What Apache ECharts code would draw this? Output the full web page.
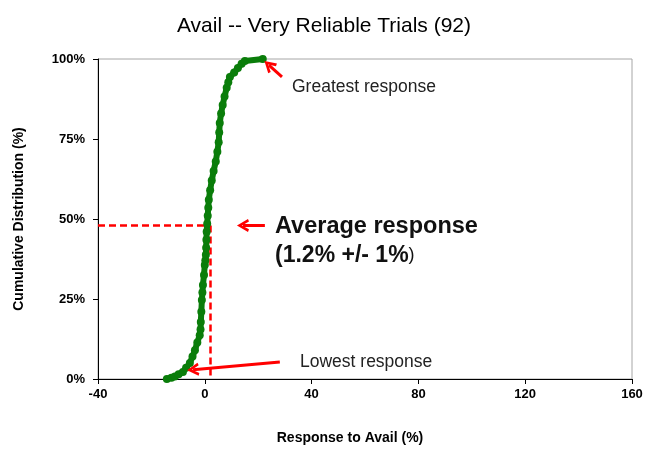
<!DOCTYPE html>
<html>
<head>
<meta charset="utf-8">
<script src="https://cdn.jsdelivr.net/npm/echarts@6/dist/echarts.min.js"></script>
<style>
  html, body { margin: 0; padding: 0; background: #fff; }
  #chart { width: 648px; height: 450px; }
</style>
</head>
<body>
<div id="chart"></div>
<script>
// values
const responseX = [-14.2, -12.5, -11.2, -9.8, -8.2, -7.0, -5.6, -4.6, -3.7, -2.8, -1.9, -1.6, -1.5, -1.3, -1.1, -0.9,
  -0.7, -0.3, 0, 0.2, 0.4, 0.5, 0.6, 0.7, 0.9, 1.1, 1.3, 1.5, 2.0, 2.6, 3.3, 4.1, 4.7, 5.2, 5.4, 5.6, 6.1, 6.7,
  7.4, 8.2, 8.8, 9.4, 11.0, 12.4, 13.8, 15.0, 21.7];
const cumulativePct = [0, 0.4, 0.8, 1.5, 2.2, 3.5, 5, 7, 9, 11.4, 13.7, 15.5, 17.8, 21, 24.7, 27,
  29.4, 32.5, 35.6, 37, 38.8, 41, 43.5, 46, 48.5, 51, 53.5, 56, 59, 62, 65, 68, 71, 74, 77, 80, 83, 85.6,
  88.3, 91, 92.7, 94.4, 95.8, 97.2, 98.5, 99.4, 100];
const xTicks = [-40, 0, 40, 80, 120, 160];
const yTicks = [0, 25, 50, 75, 100];
const avgGuide = [2, 48];          // dashed lines: x at average, y at cumulative %
// annotation arrows: [tail, head]
const arrowGreatest = [[28.9, 94.4], [24.0, 98.1]];
const arrowAverage = [[22.5, 48], [14.3, 48]];
const arrowLowest = [[28.1, 5.3], [-4.4, 2.9]];

const chart = echarts.init(document.getElementById('chart'));
const fontFam = '"Liberation Sans", Arial, sans-serif';
const chevron = 'path://M0,11 L6,0 L12,11 L9.6,12 L6,5 L2.4,12 Z';

const points = responseX.map((x, i) => [x, cumulativePct[i]]);

const arrowLine = (pair) => [
  { coord: pair[0], symbol: 'none' },
  { coord: pair[1], symbol: chevron, symbolSize: [13, 12] }
];

chart.setOption({
  animation: false,
  backgroundColor: '#fff',
  title: {
    text: 'Avail -- Very Reliable Trials (92)',
    left: 'center',
    top: 11,
    textStyle: { fontFamily: fontFam, fontSize: 21, fontWeight: 'normal', color: '#000' }
  },
  grid: { left: 98, right: 16, top: 59, bottom: 71, show: true, borderColor: '#a6a6a6', borderWidth: 1 },
  xAxis: {
    type: 'value',
    min: xTicks[0], max: xTicks[xTicks.length - 1], interval: xTicks[1] - xTicks[0],
    name: 'Response to Avail (%)',
    nameLocation: 'middle',
    nameGap: 52,
    nameTextStyle: { fontFamily: fontFam, fontSize: 14, fontWeight: 'bold', color: '#000', padding: [0, 30, 0, 0] },
    axisLine: { onZero: false, lineStyle: { color: '#000', width: 1 } },
    axisTick: { show: true, length: 5, lineStyle: { color: '#000' } },
    axisLabel: { fontFamily: fontFam, fontSize: 13, fontWeight: 'bold', color: '#000', margin: 9 },
    splitLine: { show: false }
  },
  yAxis: {
    type: 'value',
    min: yTicks[0], max: yTicks[yTicks.length - 1], interval: yTicks[1] - yTicks[0],
    name: 'Cumulative Distribution (%)',
    nameLocation: 'middle',
    nameRotate: 90,
    nameGap: 72,
    nameTextStyle: { fontFamily: fontFam, fontSize: 14, fontWeight: 'bold', color: '#000' },
    axisLine: { show: true, onZero: false, lineStyle: { color: '#000', width: 1 } },
    axisTick: { show: true, length: 5, lineStyle: { color: '#000' } },
    axisLabel: { fontFamily: fontFam, fontSize: 13, fontWeight: 'bold', color: '#000', margin: 13,
      formatter: (v) => v + '%' },
    splitLine: { show: false }
  },
  series: [
    {
      name: 'Cumulative',
      type: 'line',
      data: points,
      symbol: 'circle',
      symbolSize: 8,
      showSymbol: true,
      clip: false,
      z: 3,
      lineStyle: { color: '#0a7d0a', width: 6 },
      itemStyle: { color: '#0a7d0a' },
      markLine: {
        silent: true,
        symbol: ['none', 'none'],
        label: { show: false },
        lineStyle: { color: '#ff0000', type: [7, 4], width: 2.5 },
        z: 2,
        data: [
          [{ coord: [xTicks[0], avgGuide[1]] }, { coord: [avgGuide[0], avgGuide[1]] }],
          [{ coord: [avgGuide[0], avgGuide[1]] }, { coord: [avgGuide[0], yTicks[0]] }]
        ]
      }
    },
    {
      name: 'Arrows',
      type: 'line',
      data: [],
      z: 4,
      markLine: {
        silent: true,
        label: { show: false },
        lineStyle: { color: '#ff0000', type: 'solid', width: 3 },
        itemStyle: { color: '#ff0000' },
        data: [arrowLine(arrowGreatest), arrowLine(arrowAverage), arrowLine(arrowLowest)]
      }
    }
  ],
  graphic: [
    { type: 'text', left: 292, top: 78,
      style: { text: 'Greatest response', fill: '#222', font: '17.5px ' + fontFam } },
    { type: 'text', left: 275, top: 215,
      style: { text: 'Average response', fill: '#111', font: 'bold 23.5px ' + fontFam } },
    { type: 'text', left: 275, top: 244,
      style: {
        text: '{b|(1.2% +/- 1%}{n|)}',
        rich: {
          b: { fill: '#111', font: 'bold 23px ' + fontFam },
          n: { fill: '#111', font: '18px ' + fontFam }
        }
      } },
    { type: 'text', left: 300, top: 353,
      style: { text: 'Lowest response', fill: '#222', font: '17.5px ' + fontFam } }
  ]
});
</script>
</body>
</html>
